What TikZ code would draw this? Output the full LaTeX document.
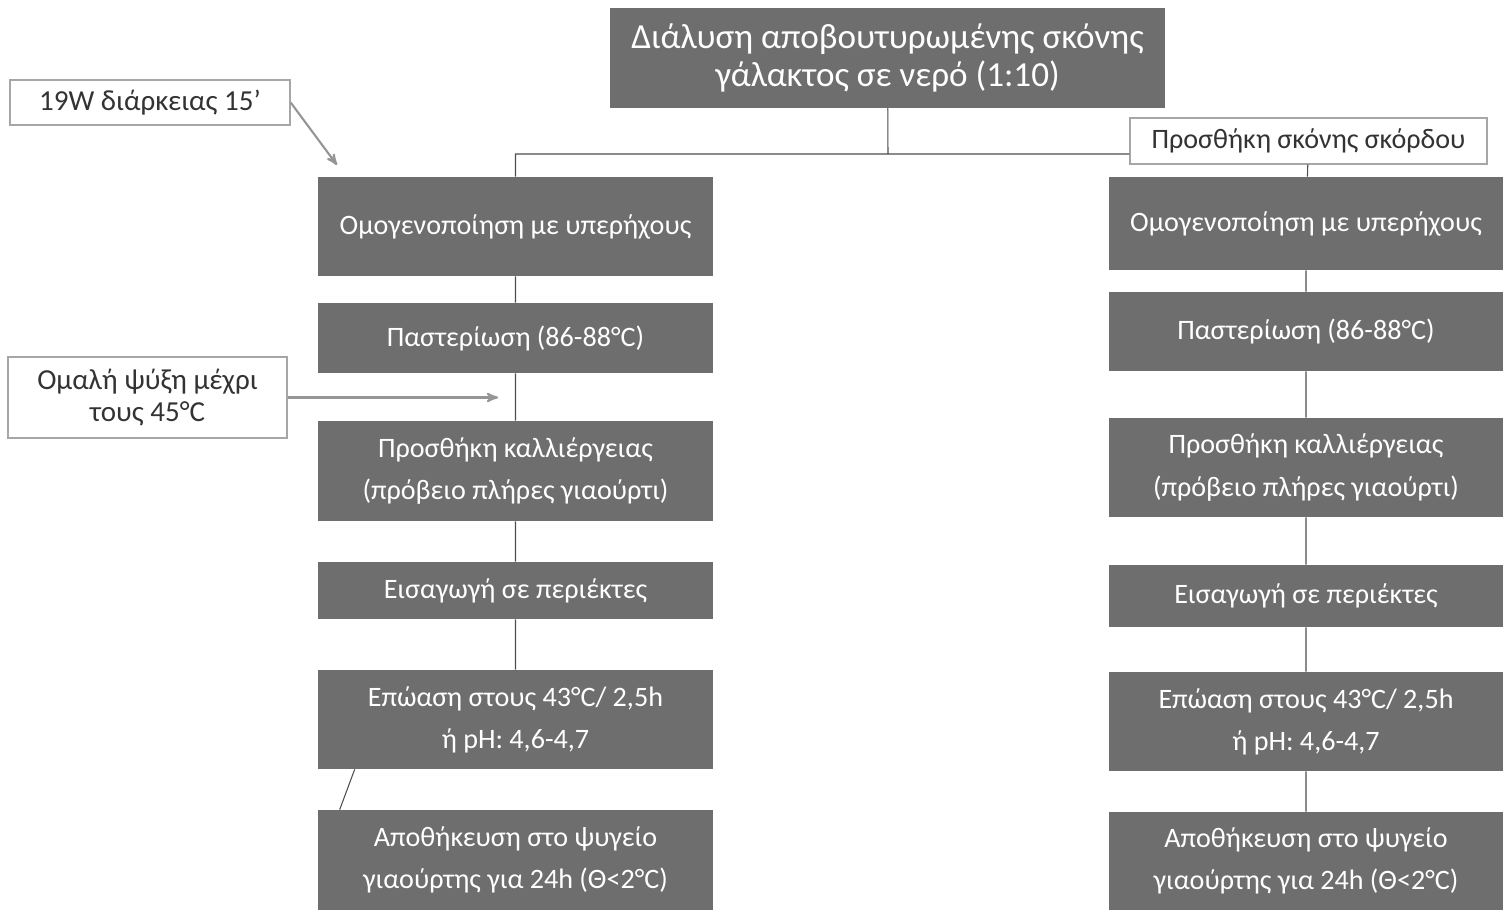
\documentclass[tikz,border=0pt]{standalone}
\usepackage{fontspec}
\setmainfont{Carlito}
\usetikzlibrary{arrows,calc,positioning}

\definecolor{boxgray}{HTML}{6E6E6E}
\definecolor{linegray}{HTML}{4D4D4D}
\definecolor{notegray}{HTML}{A6A6A6}
\definecolor{notetext}{HTML}{333333}

\tikzset{
    stage/.style={fill=boxgray, text=white, inner sep=0pt, align=center,
                  minimum width=7.9cm, font=\fontsize{16}{24}\selectfont},
    note/.style={draw=notegray, line width=0.8pt, fill=white, text=notetext, inner sep=0pt,
                 align=center, font=\fontsize{16.5}{18.5}\selectfont},
    link/.style={draw=linegray, line width=0.6pt},
    hint/.style={->, draw=notegray!90!black, line width=1.2pt}
}

\begin{document}
\begin{tikzpicture}[x=0.02cm, y=-0.02cm, >=stealth']
    \useasboundingbox (0,0) rectangle (1512,912);

    % top
    \node[stage, minimum width=11.1cm, minimum height=2cm, font=\fontsize{20}{21.5}\selectfont]
                                    (dissolve)   at (887.5,58)   {Διάλυση αποβουτυρωμένης σκόνης\\γάλακτος σε νερό (1:10)};
    \node[note, minimum width=7.14cm, minimum height=0.92cm, font=\fontsize{16}{18}\selectfont]
                                    (garlic)     at (1308.5,141) {Προσθήκη σκόνης σκόρδου};

    % left branch
    \node[stage, minimum height=1.98cm] (homL)   at (515.5,226.5) {Ομογενοποίηση με υπερήχους};
    \node[stage, minimum height=1.4cm]  (pastL)  at (515.5,338)   {Παστερίωση (86-88°C)};
    \node[stage, minimum height=2cm]    (cultL)  at (515.5,471)   {Προσθήκη καλλιέργειας\\(πρόβειο πλήρες γιαούρτι)};
    \node[stage, minimum height=1.14cm] (fillL)  at (515.5,590.5) {Εισαγωγή σε περιέκτες};
    \node[stage, minimum height=1.98cm] (incL)   at (515.5,719.5) {Επώαση στους 43°C/ 2,5h\\ή pH: 4,6-4,7};
    \node[stage, minimum height=2cm]    (storeL) at (515.5,860)   {Αποθήκευση στο ψυγείο\\γιαούρτης για 24h (Θ<2°C)};

    % right branch
    \node[stage, minimum height=1.86cm] (homR)   at (1306,223.5)  {Ομογενοποίηση με υπερήχους};
    \node[stage, minimum height=1.58cm] (pastR)  at (1306,331.5)  {Παστερίωση (86-88°C)};
    \node[stage, minimum height=1.98cm] (cultR)  at (1306,467.5)  {Προσθήκη καλλιέργειας\\(πρόβειο πλήρες γιαούρτι)};
    \node[stage, minimum height=1.24cm] (fillR)  at (1306,596)    {Εισαγωγή σε περιέκτες};
    \node[stage, minimum height=1.98cm] (incR)   at (1306,721.5)  {Επώαση στους 43°C/ 2,5h\\ή pH: 4,6-4,7};
    \node[stage, minimum height=1.96cm] (storeR) at (1306,861)    {Αποθήκευση στο ψυγείο\\γιαούρτης για 24h (Θ<2°C)};

    % side notes
    \node[note, minimum width=5.6cm, minimum height=0.9cm]   (sonic) at (150,102.5)   {19W διάρκειας 15’};
    \node[note, minimum width=5.58cm, minimum height=1.62cm] (cool)  at (147.5,397.5) {Ομαλή ψύξη μέχρι\\τους 45°C};

    \coordinate (split) at (888,154);
    \coordinate (sonictip) at (337,165);
    \coordinate (cooltip) at (498,397.5);

    % connectors
    \path[link] (dissolve) -- (split)
                (split) -| (homL)
                (split) -- (split -| garlic.west)
                (garlic) -- (homR)
                (homL) -- (pastL)   (pastL) -- (cultL)   (cultL) -- (fillL)   (fillL) -- (incL)
                ($(incL.south west)+(37,0)$) -- ($(storeL.north west)+(22,0)$)
                (homR) -- (pastR)   (pastR) -- (cultR)   (cultR) -- (fillR)   (fillR) -- (incR)   (incR) -- (storeR);

    \draw[hint] (sonic.east) -- (sonictip);
    \draw[hint] (cool.east) -- (cooltip);
\end{tikzpicture}
\end{document}
